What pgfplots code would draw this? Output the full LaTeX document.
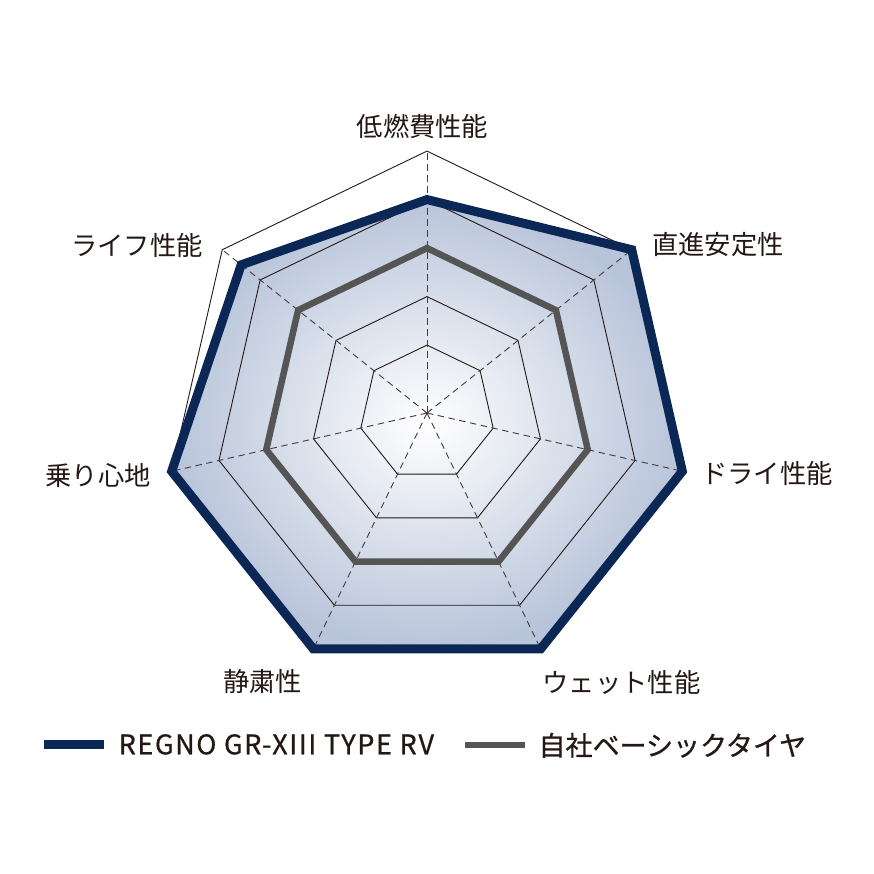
\documentclass[border=0pt]{standalone}
\usepackage{fontspec}
\setmainfont{Noto Sans CJK JP}
\newfontfamily\legfont[FakeBold=0.8]{Noto Sans CJK JP}
\usepackage{pgfplots}
\pgfplotsset{compat=1.18}
\usepackage{pgfplotstable}

\definecolor{regnoblue}{HTML}{0A2756}
\definecolor{basegray}{HTML}{555555}
\definecolor{fillblue}{HTML}{B8C4DA}
\definecolor{gridline}{HTML}{231815}
\definecolor{txt}{HTML}{231815}

% axis angle (deg, clockwise from top) and score (1..5)
\pgfplotstableread{
angle    regno base
90.000   4.0   3
38.571   5.0   3
-12.857  5.0   3
-64.286  5.0   3
-115.714 5.0   3
-167.143 5.0   3
141.429  4.5   3
}\scores

\begin{document}
\begin{tikzpicture}
\path[use as bounding box] (0,0) rectangle (874pt,874pt);
\begin{axis}[
  at={(427pt,461pt)}, anchor=center,
  scale only axis, width=582pt, height=582pt,
  xmin=-6, xmax=6, ymin=-6, ymax=6,
  hide axis, clip=false,
  data cs=polar,
  legend columns=2,
  legend style={at={(0.493,-0.0704)}, anchor=center, draw=none, fill=none,
    inner sep=0pt,
    nodes={inner sep=0pt, text=txt, font=\legfont\fontsize{27}{30}\selectfont},
    /tikz/every even column/.append style={column sep=28pt}},
  legend image code/.code={\draw[#1] (0pt,0pt) -- (60pt,0pt); \path (70pt,0pt);},
]
% shaded area of the REGNO polygon
\addplot[forget plot, draw=none, shading=radial, inner color=white, outer color=fillblue]
  table[x=angle, y expr=\thisrow{regno}+0.4]{\scores} -- cycle;
% rings
\pgfplotsinvokeforeach{1,...,5}{
  \addplot[forget plot, draw=gridline, line width=0.9pt, line join=miter]
    table[x=angle, y expr=#1+0.4]{\scores} -- cycle;
}
% spokes
\pgfplotsinvokeforeach{90,38.571,-12.857,-64.286,-115.714,-167.143,141.429}{
  \addplot[forget plot, draw=gridline!85, line width=0.9pt, dash pattern=on 6.5pt off 4.5pt]
    coordinates {(#1,0) (#1,5.4)};
}
\addplot[draw=regnoblue, line width=9pt, line join=miter]
  table[x=angle, y expr=\thisrow{regno}+0.4]{\scores} -- cycle;
\addlegendentry{\addfontfeatures{LetterSpace=6}REGNO GR-XIII TYPE RV}
\addplot[draw=basegray, line width=6.5pt, line join=miter]
  table[x=angle, y expr=\thisrow{base}+0.4]{\scores} -- cycle;
\addlegendentry{自社ベーシックタイヤ}
\end{axis}
\begin{scope}[every node/.style={inner sep=0pt, text=txt, font=\fontsize{26.3}{30}\selectfont}]
\node[anchor=center] at (422.5pt,748pt) {低燃費性能};
\node[anchor=west]   at (652pt,629pt)   {直進安定性};
\node[anchor=west]   at (701pt,401pt)   {ドライ性能};
\node[anchor=center] at (621.5pt,192pt) {ウェット性能};
\node[anchor=center] at (262.5pt,192pt) {静粛性};
\node[anchor=east]   at (151pt,398pt)   {乗り心地};
\node[anchor=east]   at (203pt,629pt)   {ライフ性能};
\end{scope}
\end{tikzpicture}
\end{document}
